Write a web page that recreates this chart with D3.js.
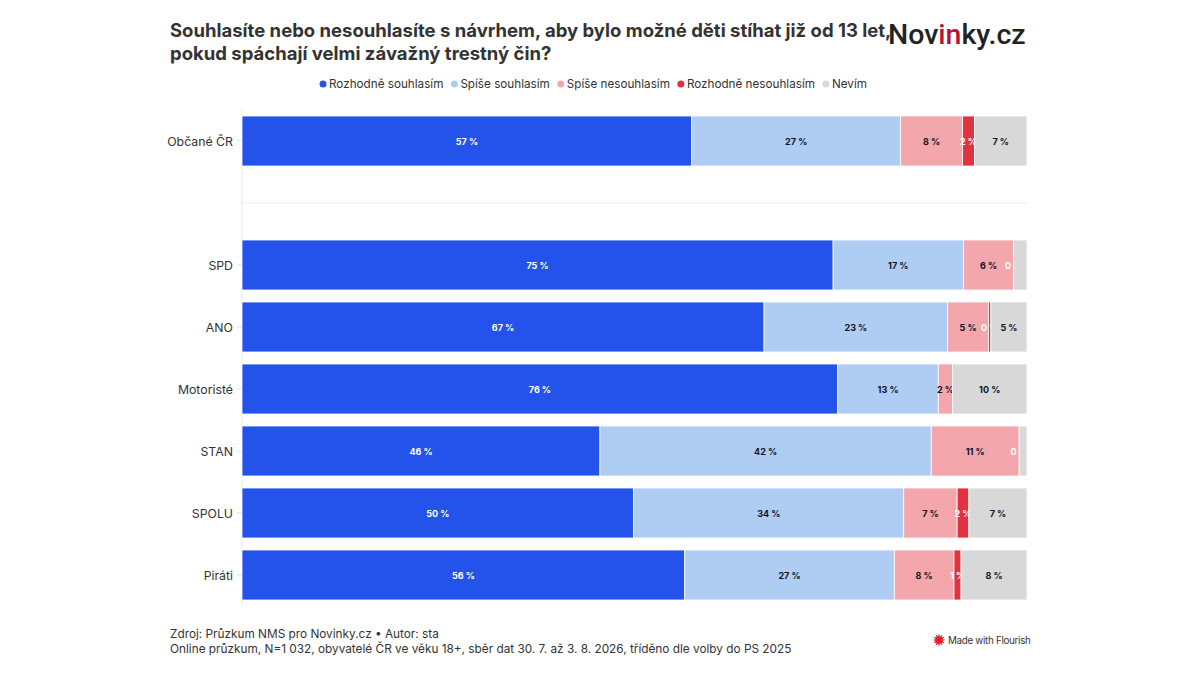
<!DOCTYPE html>
<html><head><meta charset="utf-8">
<script src="https://cdn.jsdelivr.net/npm/d3@7/dist/d3.min.js"></script>
<style>
body{margin:0;background:#fff;}
svg{display:block;font-family:Inter, "Noto Sans", sans-serif;}
</style></head>
<body>
<svg id="chart" width="1200" height="675"></svg>
<script>
const categories = ["Občané ČR", "", "SPD", "ANO", "Motoristé", "STAN", "SPOLU", "Piráti"];
const seriesNames = ["Rozhodně souhlasím", "Spíše souhlasím", "Spíše nesouhlasím", "Rozhodně nesouhlasím", "Nevím"];
const seriesColors = ["#2353ea", "#afcdf3", "#f3a6ab", "#e0323f", "#d8d8d8"];
const labelColors = ["#ffffff", "#111122", "#111122", "#ffffff", "#111122"];
// values per series (percent), index aligned with categories; null = no segment
const rozhodneSouhlasim   = [57.3, null, 75.3, 66.5, 75.9, 45.6, 49.9, 56.4];
const spiseSouhlasim      = [26.6, null, 16.6, 23.4, 12.8, 42.2, 34.4, 26.7];
const spiseNesouhlasim    = [7.9,  null, 6.4,  5.2,  1.8,  11.2, 6.8,  7.6];
const rozhodneNesouhlasim = [1.5,  null, 0,    0.3,  null, 0,    1.5,  0.9];
const nevim               = [6.7,  null, 1.7,  4.6,  9.5,  1.0,  7.4,  8.4];

const series = [rozhodneSouhlasim, spiseSouhlasim, spiseNesouhlasim, rozhodneNesouhlasim, nevim];

const svg = d3.select("#chart");
const x = d3.scaleLinear().domain([0, 100]).range([242, 1027]);
const y = d3.scaleBand().domain(categories).range([110, 606]).paddingInner(12/62).paddingOuter(6/62);

// Title
const title = svg.append("text").attr("x", 170).attr("fill", "#333").attr("font-weight", 700).attr("font-size", 18.5);
title.append("tspan").attr("x", 170).attr("y", 37).text("Souhlasíte nebo nesouhlasíte s návrhem, aby bylo možné děti stíhat již od 13 let,");
title.append("tspan").attr("x", 170).attr("y", 60).text("pokud spáchají velmi závažný trestný čin?");

// Logo
const logo = svg.append("text").attr("x", 888).attr("y", 44).attr("font-size", 28.5).attr("font-weight", 500)
  .attr("font-family", "Roboto, sans-serif").attr("fill", "#222");
logo.append("tspan").text("Nov");
logo.append("tspan").attr("fill", "#b5123a").text("in");
logo.append("tspan").text("ky.cz");

// Legend
const legend = svg.append("g");
let lx = 0;
seriesNames.forEach((n, i) => {
  const g = legend.append("g");
  g.append("circle").attr("cx", 4).attr("cy", 0).attr("r", 3.5).attr("fill", seriesColors[i]);
  const t = g.append("text").attr("x", 10).attr("y", 4.3).attr("font-size", 11.7).attr("fill", "#333").text(n);
  const w = 10 + t.node().getComputedTextLength();
  g.attr("transform", `translate(${lx},84)`);
  lx += w + 7;
});
const legW = lx - 7;
legend.attr("transform", `translate(${(320 + 866) / 2 - legW / 2},0)`);

// Axis lines
svg.append("line").attr("x1", x(0)).attr("x2", x(0)).attr("y1", 110).attr("y2", 606)
  .attr("stroke", "#e6e6e6").attr("stroke-width", 1);
const spacerY = y("") + y.bandwidth() / 2;
svg.append("line").attr("x1", x(0) - 2).attr("x2", x(100)).attr("y1", spacerY).attr("y2", spacerY)
  .attr("stroke", "#ececec").attr("stroke-width", 1);

// Category labels + ticks
categories.forEach(c => {
  if (!c) return;
  const cy = y(c) + y.bandwidth() / 2;
  svg.append("text").attr("x", 233).attr("y", cy + 4.5).attr("text-anchor", "end")
    .attr("font-size", 12.3).attr("fill", "#333").text(c);
  svg.append("line").attr("x1", x(0) - 5).attr("x2", x(0)).attr("y1", cy).attr("y2", cy)
    .attr("stroke", "#e0e0e0");
});

// Bars
categories.forEach((c, ci) => {
  let acc = 0;
  series.forEach((s, si) => {
    const v = s[ci];
    if (v === null) return;
    const x0 = x(acc), x1 = x(acc + v);
    acc += v;
    if (v > 0) {
      svg.append("rect").attr("x", x0).attr("y", y(c)).attr("width", Math.max(0, x1 - x0))
        .attr("height", y.bandwidth()).attr("fill", seriesColors[si])
        .attr("stroke", "#fff").attr("stroke-width", 0.8);
    }
    const show = si === 3 || v >= 1.75;
    if (show) {
      svg.append("text").attr("x", (x0 + x1) / 2).attr("y", y(c) + y.bandwidth() / 2 + 3.5)
        .attr("text-anchor", "middle").attr("font-size", 9).attr("font-weight", 700)
        .attr("fill", labelColors[si]).text(Math.round(v) + " %");
    }
  });
});

// Footer
svg.append("text").attr("x", 170).attr("y", 638).attr("font-size", 11.8).attr("fill", "#333")
  .text("Zdroj: Průzkum NMS pro Novinky.cz • Autor: sta");
svg.append("text").attr("x", 170).attr("y", 653).attr("font-size", 11.8).attr("fill", "#333")
  .text("Online průzkum, N=1 032, obyvatelé ČR ve věku 18+, sběr dat 30. 7. až 3. 8. 2026, tříděno dle volby do PS 2025");

// Made with Flourish
const fl = svg.append("g").attr("transform", "translate(939,640)");
d3.range(12).forEach(i => {
  const a = i * Math.PI / 6;
  fl.append("line").attr("x1", 0).attr("y1", 0).attr("x2", 5.5 * Math.cos(a)).attr("y2", 5.5 * Math.sin(a))
    .attr("stroke", "#e0202a").attr("stroke-width", 1.2);
});
fl.append("circle").attr("r", 3.8).attr("fill", "#e0202a");
svg.append("text").attr("x", 948).attr("y", 644).attr("font-size", 9.8).attr("fill", "#333")
  .attr("letter-spacing", -0.3).text("Made with Flourish");
</script>
</body></html>
